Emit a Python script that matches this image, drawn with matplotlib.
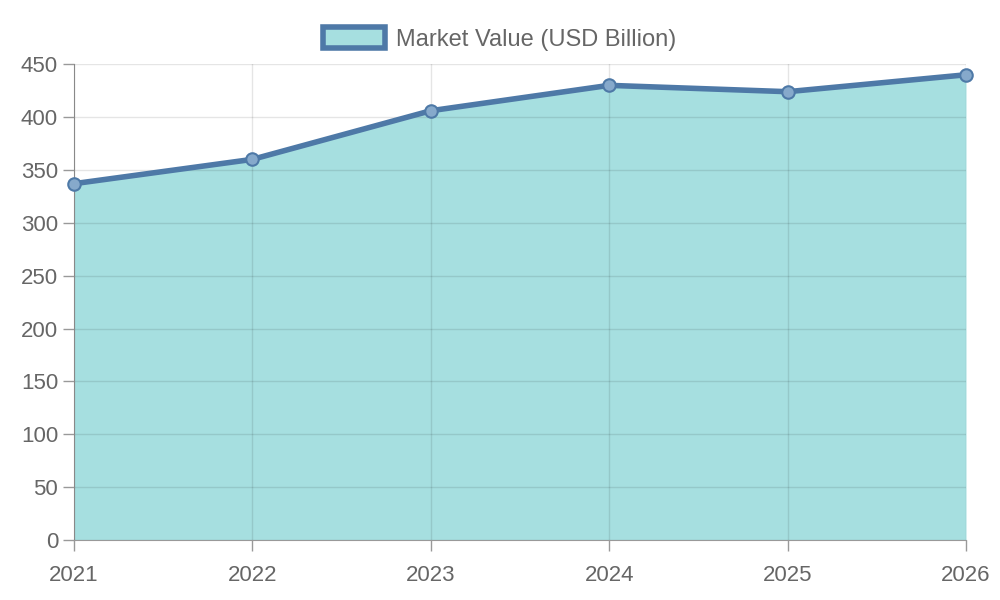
import matplotlib
matplotlib.use("Agg")
import matplotlib.pyplot as plt
from matplotlib.patches import Patch

years = ["2021", "2022", "2023", "2024", "2025", "2026"]
values = [337, 360, 406, 430, 424, 440]
series_label = "Market Value (USD Billion)"

plt.rcParams['font.family'] = ['Liberation Sans', 'DejaVu Sans']
fig = plt.figure(figsize=(10, 6), dpi=100)
ax = fig.add_axes([0.074, 0.1, 0.892, 0.793])
x = list(range(len(years)))
ax.fill_between(x, values, 0, color="#a6dfe0", zorder=1, lw=0)
ax.plot(x, values, color="#4e79a7", lw=4, zorder=3, clip_on=False)
ax.plot(x, values, 'o', ms=9, mfc="#86a9cb", mec="#4e79a7", mew=1.5, zorder=4, clip_on=False)
ax.set_xlim(0, len(years) - 1)
ax.set_ylim(0, 450)
ax.set_xticks(x)
ax.set_xticklabels(years)
ax.set_yticks(range(0, 451, 50))
ax.tick_params(colors="#999999", labelcolor="#666666", labelsize=16, length=8, width=1)
ax.tick_params(axis='x', pad=10)
ax.set_axisbelow(False)
ax.grid(True, color="#000000", alpha=0.1, lw=1, zorder=2)
for s in ["top", "right"]:
    ax.spines[s].set_visible(False)
for s in ["left", "bottom"]:
    ax.spines[s].set_color("#999999")
h = Patch(facecolor="#a6dfe0", edgecolor="#4e79a7", lw=4, label=series_label)
fig.legend(handles=[h], loc="upper center", bbox_to_anchor=(0.5, 0.99), frameon=False,
           fontsize=17, labelcolor="#666666", handlelength=2.6, handleheight=1.0,
           handletextpad=0.5)
fig.savefig("out.png")
